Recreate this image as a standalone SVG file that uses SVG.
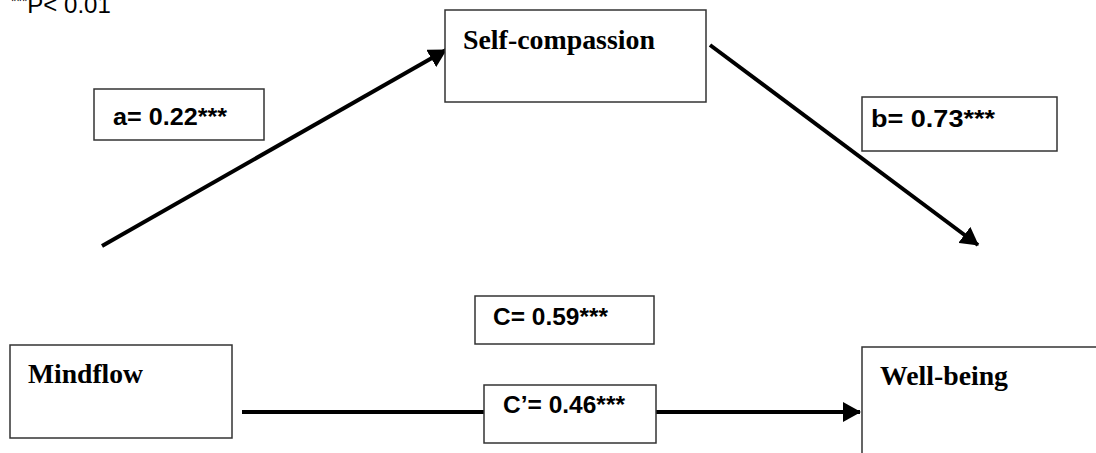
<svg xmlns="http://www.w3.org/2000/svg" width="1096" height="453" viewBox="0 0 1096 453">
<style>
.box{fill:#fff;stroke:#333;stroke-width:1.5}
.node{font-family:"Liberation Serif","Times New Roman",serif;font-weight:bold;font-size:27px;fill:#000}
.lab{font-family:"Liberation Sans",Arial,sans-serif;font-weight:bold;font-size:24px;fill:#000}
.edge{stroke:#000;stroke-width:4;fill:none}
</style>
<defs>
<marker id="ah" markerUnits="userSpaceOnUse" markerWidth="18" markerHeight="20" viewBox="0 0 18 20" refX="17" refY="10" orient="auto">
<path d="M0,0 L18,10 L0,20 Z" fill="#000"/>
</marker>
</defs>
<text x="11" y="13" font-family="Liberation Sans,Arial,sans-serif" font-size="24" fill="#000"><tspan font-size="14" dy="-7">***</tspan><tspan dy="7">P&lt; 0.01</tspan></text>
<g id="connectors">
<line class="edge" x1="102" y1="246" x2="446" y2="50" marker-end="url(#ah)"/>
<line class="edge" x1="710" y1="45" x2="978" y2="245" marker-end="url(#ah)"/>
<line class="edge" x1="242" y1="412" x2="484" y2="412"/>
<line class="edge" x1="656" y1="412" x2="860" y2="412" marker-end="url(#ah)"/>
</g>
<g id="self-compassion">
<rect class="box" x="445" y="10" width="261" height="92"/>
<text class="node" x="463" y="49" textLength="192" lengthAdjust="spacingAndGlyphs">Self-compassion</text>
</g>
<g id="mindflow">
<rect class="box" x="10" y="345" width="222" height="93"/>
<text class="node" x="28" y="383" textLength="115" lengthAdjust="spacingAndGlyphs">Mindflow</text>
</g>
<g id="well-being">
<rect class="box" x="862" y="347" width="300" height="200"/>
<text class="node" x="880" y="385" textLength="128" lengthAdjust="spacingAndGlyphs">Well-being</text>
</g>
<g id="label-a">
<rect class="box" x="94" y="89" width="170" height="51"/>
<text class="lab" x="113" y="125" textLength="114" lengthAdjust="spacingAndGlyphs">a= 0.22***</text>
</g>
<g id="label-b">
<rect class="box" x="862" y="97" width="195" height="54"/>
<text class="lab" x="871" y="127" textLength="124" lengthAdjust="spacingAndGlyphs">b= 0.73***</text>
</g>
<g id="label-c">
<rect class="box" x="475" y="296" width="179" height="48"/>
<text class="lab" x="493" y="325" textLength="115" lengthAdjust="spacingAndGlyphs">C= 0.59***</text>
</g>
<g id="label-c-prime">
<rect class="box" x="484" y="385" width="172" height="58"/>
<text class="lab" x="503" y="413" textLength="122" lengthAdjust="spacingAndGlyphs">C’= 0.46***</text>
</g>
</svg>
